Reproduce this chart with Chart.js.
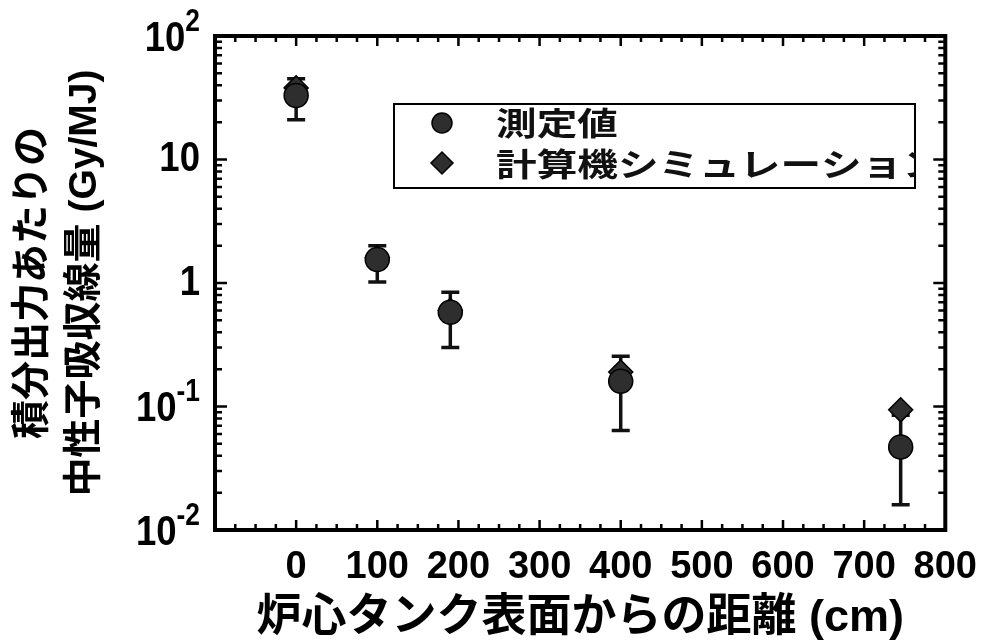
<!DOCTYPE html>
<html>
<head>
<meta charset="utf-8">
<script src="https://cdn.jsdelivr.net/npm/chart.js@4.4.1/dist/chart.umd.min.js"></script>
<style>
  html, body { margin: 0; padding: 0; background: #fff; }
</style>
</head>
<body>
<canvas id="graficoDose" width="992" height="643"></canvas>
<script>
// distance from core tank surface (cm)
const distance = [0, 100, 190, 400, 745];
const measured = [33, 1.55, 0.58, 0.16, 0.047];
const measuredLow = [21, 1.02, 0.30, 0.064, 0.016];
const measuredHigh = [45, 2.0, 0.84, 0.255, 0.085];
const simulated = [38, 1.6, 0.6, 0.19, 0.094];

const yTickValues = [0.01, 0.1, 1, 10, 100];
const yTickBase = ["10", "10", "1", "10", "10"];
const yTickExp = ["-2", "-1", "", "", "2"];

const legendLabels = ["測定値", "計算機シミュレーション"];

const tickFont = '"Liberation Sans", Arial, sans-serif';
const titleFont = '"Liberation Sans", "Noto Sans CJK JP", sans-serif';
const markColor = "#2e2e2e";

const drawMarker = (ctx, style, x, y, r) => {
  ctx.beginPath();
  if (style === "circle") {
    ctx.arc(x, y, r, 0, Math.PI * 2);
  } else {
    ctx.moveTo(x, y - r);
    ctx.lineTo(x + r, y);
    ctx.lineTo(x, y + r);
    ctx.lineTo(x - r, y);
    ctx.closePath();
  }
  ctx.fillStyle = markColor;
  ctx.fill();
  ctx.lineWidth = 1.5;
  ctx.strokeStyle = "#000";
  ctx.stroke();
};

// narrow text by squeezing the canvas horizontally
const squeezeText = (ctx, text, xr, y, font, sx) => {
  ctx.save();
  ctx.font = font;
  ctx.textAlign = "right";
  ctx.translate(xr, y);
  ctx.scale(sx, 1);
  ctx.fillText(text, 0, 0);
  const w = ctx.measureText(text).width * sx;
  ctx.restore();
  return w;
};

const framePlugin = {
  id: "frame",
  beforeDatasetsDraw(chart) {
    const ctx = chart.ctx;
    const xs = chart.scales.x, ys = chart.scales.y;
    ctx.save();
    ctx.strokeStyle = "#111";
    ctx.lineWidth = 3.5;
    distance.forEach((d, i) => {
      const px = xs.getPixelForValue(d);
      const lo = ys.getPixelForValue(measuredLow[i]);
      const hi = ys.getPixelForValue(measuredHigh[i]);
      ctx.beginPath();
      ctx.moveTo(px, lo); ctx.lineTo(px, hi);
      ctx.moveTo(px - 9, lo); ctx.lineTo(px + 9, lo);
      ctx.moveTo(px - 9, hi); ctx.lineTo(px + 9, hi);
      ctx.stroke();
    });
    ctx.restore();
  },
  afterDatasetsDraw(chart) {
    const ctx = chart.ctx;
    const xs = chart.scales.x, ys = chart.scales.y;
    const { left, right, top, bottom } = chart.chartArea;
    ctx.save();
    ctx.strokeStyle = "#000";
    ctx.lineWidth = 2.5;
    ctx.beginPath();
    // x ticks every 25, longer every 100
    for (let v = -100; v <= 800; v += 25) {
      const px = xs.getPixelForValue(v);
      const len = v % 100 === 0 ? 10 : 6;
      ctx.moveTo(px, bottom); ctx.lineTo(px, bottom - len);
      ctx.moveTo(px, top); ctx.lineTo(px, top + len);
    }
    // log ticks
    for (let e = -2; e < 2; e++) {
      for (let k = 1; k <= 9; k++) {
        const py = ys.getPixelForValue(k * Math.pow(10, e));
        const len = k === 1 ? 12 : 7;
        ctx.moveTo(left, py); ctx.lineTo(left + len, py);
        ctx.moveTo(right, py); ctx.lineTo(right - len, py);
      }
    }
    ctx.stroke();

    ctx.lineWidth = 4;
    ctx.strokeRect(left, top, right - left, bottom - top);

    // y tick labels with superscripts
    ctx.fillStyle = "#000";
    ctx.textBaseline = "middle";
    yTickValues.forEach((v, i) => {
      const py = ys.getPixelForValue(v);
      const xr = left - 15;
      let w = 0;
      if (yTickExp[i]) {
        w = squeezeText(ctx, yTickExp[i], xr, py - 14, "bold 31px " + tickFont, 0.85);
      }
      squeezeText(ctx, yTickBase[i], xr - w, py + (yTickExp[i] ? 3 : 0), "bold 43px " + tickFont, 0.85);
    });

    // legend
    const bx = 394, by = 104, bw = 521, bh = 84;
    ctx.fillStyle = "#fff";
    ctx.fillRect(bx, by, bw, bh);
    ctx.lineWidth = 2;
    ctx.strokeStyle = "#000";
    ctx.strokeRect(bx, by, bw, bh);
    drawMarker(ctx, "circle", 442, 123, 10);
    drawMarker(ctx, "diamond", 442, 163, 11);
    ctx.beginPath();
    ctx.rect(bx, by, bw, bh);
    ctx.clip();
    ctx.fillStyle = "#111";
    ctx.textAlign = "left";
    ctx.font = 'bold 32px "Noto Sans CJK JP", sans-serif';
    [123, 164].forEach((ty, i) => {
      ctx.save();
      ctx.translate(496, ty);
      ctx.scale(1.27, 1);
      ctx.fillText(legendLabels[i], 0, 0);
      ctx.restore();
    });
    ctx.restore();
  }
};

new Chart(document.getElementById("graficoDose"), {
  type: "scatter",
  data: {
    datasets: [
      {
        label: legendLabels[0],
        data: distance.map((d, i) => ({ x: d, y: measured[i] })),
        pointStyle: "circle",
        pointRadius: 12,
        backgroundColor: markColor,
        borderColor: "#000",
        borderWidth: 1.5,
      },
      {
        label: legendLabels[1],
        data: distance.map((d, i) => ({ x: d, y: simulated[i] })),
        pointStyle: "rectRot",
        pointRadius: 12,
        backgroundColor: markColor,
        borderColor: "#000",
        borderWidth: 1.5,
      },
    ],
  },
  options: {
    responsive: false,
    animation: false,
    devicePixelRatio: 1,
    layout: { padding: { top: 36, right: 41, left: 0, bottom: 0 } },
    plugins: { legend: { display: false }, tooltip: { enabled: false } },
    scales: {
      x: {
        type: "linear",
        min: -100,
        max: 800,
        afterFit: (s) => { s.height = 113; },
        grid: { display: false, drawTicks: false },
        border: { display: false },
        ticks: {
          stepSize: 100,
          autoSkip: false,
          maxRotation: 0,
          padding: 15,
          color: "#000",
          font: { family: tickFont, size: 38, weight: "bold" },
          callback: (v) => (v < 0 ? "" : v),
        },
        title: {
          display: true,
          text: "炉心タンク表面からの距離 (cm)",
          color: "#000",
          font: { family: titleFont, size: 45, weight: "bold", lineHeight: 1.1 },
          padding: { top: 0, bottom: 0 },
        },
      },
      y: {
        type: "logarithmic",
        min: 0.01,
        max: 100,
        afterFit: (s) => { s.width = 215; },
        afterBuildTicks: (s) => { s.ticks = yTickValues.map((v) => ({ value: v })); },
        grid: { display: false, drawTicks: false },
        border: { display: false },
        ticks: { display: false },
        title: {
          display: true,
          text: ["積分出力あたりの", "中性子吸収線量 (Gy/MJ)"],
          color: "#000",
          font: { family: titleFont, size: 39, weight: "bold", lineHeight: 1.33 },
          padding: { top: 7, bottom: 0 },
        },
      },
    },
  },
  plugins: [framePlugin],
});
</script>
</body>
</html>
